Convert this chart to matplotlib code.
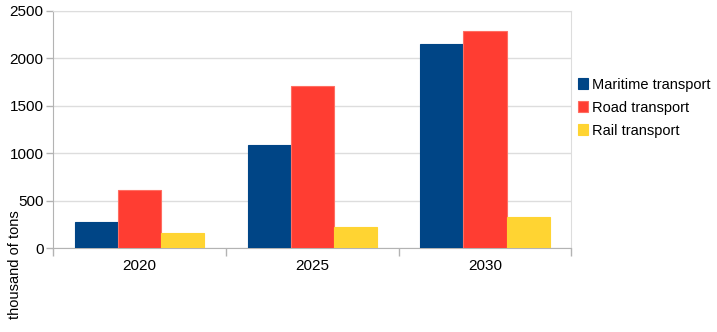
import matplotlib.pyplot as plt
import numpy as np

plt.rcParams["font.family"] = ["Liberation Sans", "DejaVu Sans"]

years = ["2020", "2025", "2030"]
series_names = ["Maritime transport", "Road transport", "Rail transport"]
maritime = [280, 1088, 2156]
road = [614, 1713, 2290]
rail = [165, 225, 330]

_COLORS = ["#004586", "#FF3D32", "#FFD432"]
_EDGES = ["#004586", "#FF6E62", "#FFD432"]

fig = plt.figure(figsize=(7.17, 3.32), dpi=100)
ax = fig.add_axes([53.3 / 717, 1 - 248.3 / 332, 518 / 717, 237.3 / 332])

x = np.arange(len(years))
width = 0.25
for i, (vals, name) in enumerate(zip([maritime, road, rail], series_names)):
    ax.bar(x + (i - 1) * width, vals, width, color=_COLORS[i],
           edgecolor=_EDGES[i], linewidth=0.8, label=name, zorder=3)

ax.set_xlim(-0.5, 2.5)
ax.set_ylim(0, 2500)
ax.set_yticks(range(0, 2501, 500))
ax.yaxis.grid(True, color="#dddddd", linewidth=1, zorder=0)

# category separator ticks
ax.set_xticks(np.arange(-0.5, 3, 1))
ax.set_xticklabels([])
ax.set_xticks(x, minor=True)
ax.set_xticklabels(years, minor=True)
ax.tick_params(axis="x", which="major", length=6, color="#b3b3b3", width=1)
ax.tick_params(axis="x", which="minor", length=0, pad=8, labelsize=11)
ax.tick_params(axis="y", length=5, color="#b3b3b3", width=1, labelsize=11, pad=2)

for s in ax.spines.values():
    s.set_color("#b3b3b3")
ax.spines["top"].set_color("#dddddd")
ax.spines["right"].set_color("#dddddd")

fig.text(15 / 717, 1 - 265 / 332, "thousand of tons", rotation=90,
         ha="center", va="center", fontsize=10.5)

ax.legend(loc="center left", bbox_to_anchor=(0.993, 0.593), frameon=False,
          fontsize=10.5, handlelength=0.7, handleheight=0.7,
          handletextpad=0.3, labelspacing=0.62, borderaxespad=0.3)

fig.savefig("out.png", dpi=100)
